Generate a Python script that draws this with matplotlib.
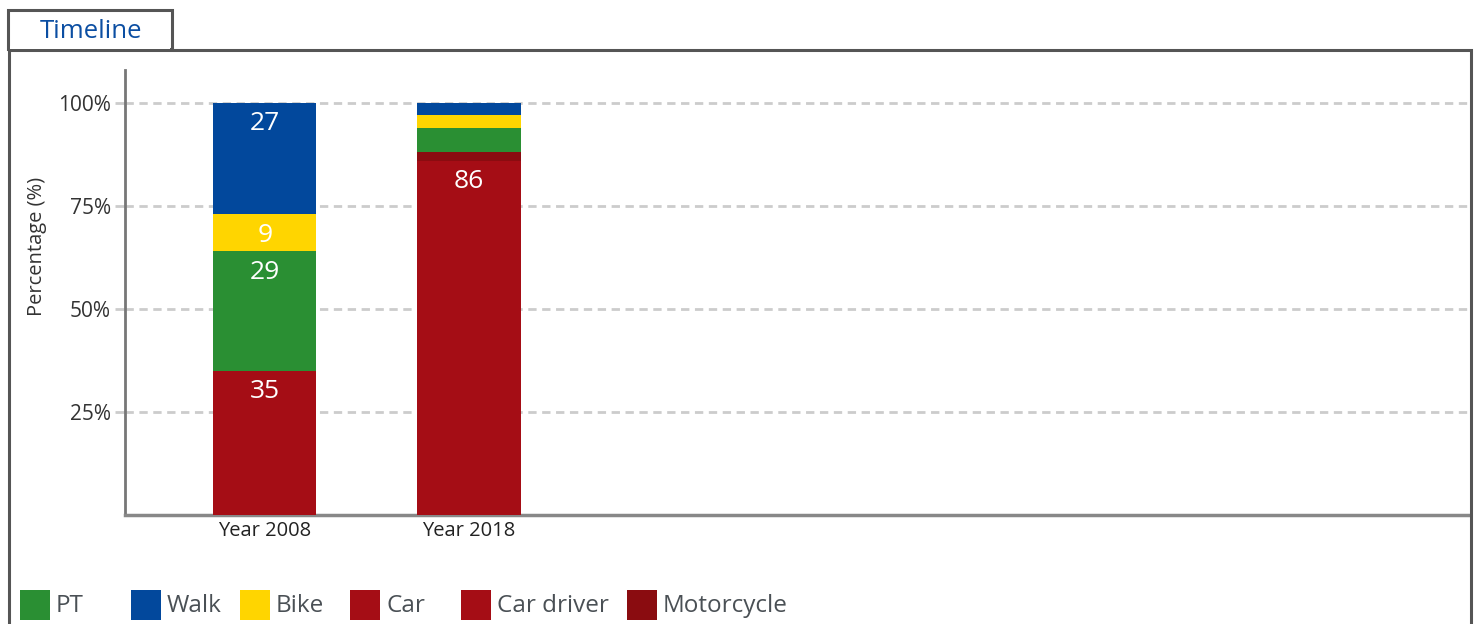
import matplotlib.pyplot as plt
from matplotlib.patches import Rectangle
import numpy as np

plt.rcParams['font.family'] = ['Open Sans', 'DejaVu Sans']

# --- data ---
years = ["Year 2008", "Year 2018"]
modes = ["Car", "Car driver", "Motorcycle", "PT", "Bike", "Walk"]  # bottom -> top
car = [35, 86]
car_driver = [0, 0]
motorcycle = [0, 2]
pt = [29, 6]
bike = [9, 3]
walk = [27, 3]

legend_order = ["PT", "Walk", "Bike", "Car", "Car driver", "Motorcycle"]
colors = {
    "PT": "#2a8f33",
    "Walk": "#02489c",
    "Bike": "#ffd500",
    "Car": "#a50d15",
    "Car driver": "#a50d15",
    "Motorcycle": "#8a0c10",
}
series = {"Car": car, "Car driver": car_driver, "Motorcycle": motorcycle,
          "PT": pt, "Bike": bike, "Walk": walk}

W, H = 1477, 624
fig = plt.figure(figsize=(W / 100, H / 100), dpi=100)

# outer frame: tab + panel
frame_col = "#555555"
fig.patches.append(Rectangle((8 / W, 1 - 49 / H), 164 / W, 39 / H, transform=fig.transFigure,
                             fill=False, lw=2.2, ec=frame_col))
fig.patches.append(Rectangle((9 / W, -0.05), 1462 / W, 1.05 - 50 / H, transform=fig.transFigure,
                             fill=False, lw=2.2, ec=frame_col))
fig.patches.append(Rectangle((10 / W, 1 - 49 / H), 160 / W, 3 / H, transform=fig.transFigure,
                             fc="white", ec="none"))
fig.text(91 / W, 1 - 31 / H, "Timeline", color="#0b4ea2", fontsize=18.5, ha="center", va="center")

ax = fig.add_axes([125 / W, 1 - 515 / H, (1470 - 125) / W, (515 - 70) / H])
x = np.arange(len(years))
bottom = np.zeros(len(years))
for m in modes:
    vals = np.array(series[m], dtype=float)
    ax.bar(x, vals, bottom=bottom, width=0.505, color=colors[m], zorder=3)
    for xi, v, b in zip(x, vals, bottom):
        if v >= 9:
            ax.annotate(f"{v:.0f}", (xi, b + v), xytext=(0, -15), textcoords="offset points",
                        ha="center", va="center", color="white", fontsize=19, zorder=4)
    bottom += vals

ax.set_xlim(-0.684, 5.9)
ax.set_ylim(0, 108)
ax.set_yticks([25, 50, 75, 100])
ax.set_yticklabels(["25%", "50%", "75%", "100%"], fontsize=15, color="#333333")
ax.set_xticks(x)
ax.set_xticklabels(years, fontsize=14.5, color="#222222")
ax.tick_params(axis="y", length=7, color="#cccccc", width=2, pad=3)
ax.tick_params(axis="x", length=0, pad=4)
ax.grid(axis="y", color="#cccccc", ls=(0, (3, 2)), lw=2, zorder=1)
for s in ["top", "right"]:
    ax.spines[s].set_visible(False)
ax.spines["left"].set_color("#777777")
ax.spines["bottom"].set_color("#888888")
ax.spines["left"].set_linewidth(2)
ax.spines["bottom"].set_linewidth(2.5)
fig.text(37 / W, 1 - 246 / H, "Percentage (%)", rotation=90, ha="center", va="center",
         fontsize=14.5, color="#333333")

# legend along the bottom, fixed slots like the original widget
leg_x = [20, 131, 240, 350, 461, 627]
for m, lx in zip(legend_order, leg_x):
    fig.patches.append(Rectangle((lx / W, 1 - 620 / H), 30 / W, 30 / H, transform=fig.transFigure,
                                 fc=colors[m], ec="none"))
    fig.text((lx + 36) / W, 1 - 606 / H, m, fontsize=17.5, color="#4a5055", ha="left", va="center")

fig.savefig("out.png", dpi=100)
